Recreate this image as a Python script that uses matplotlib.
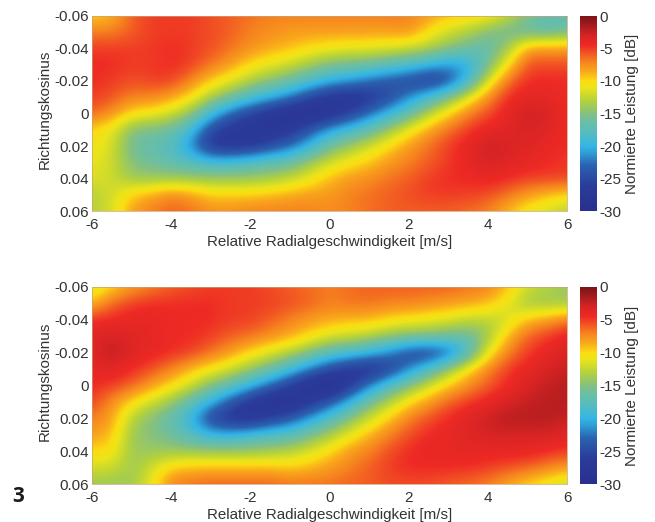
import numpy as np
import matplotlib
matplotlib.use('Agg')
import matplotlib.pyplot as plt
from matplotlib.colors import LinearSegmentedColormap

plt.rcParams['font.family'] = ['Liberation Sans', 'DejaVu Sans']
plt.rcParams['axes.unicode_minus'] = False

# axes values
speed = [-6, -5.5, -5, -4.5, -4, -3.5, -3, -2.5, -2, -1.5, -1, -0.5, 0, 0.5, 1, 1.5, 2, 2.5, 3, 3.5, 4, 4.5, 5, 5.5, 6]
cosine = [-0.06, -0.05, -0.04, -0.03, -0.02, -0.01, 0, 0.01, 0.02, 0.03, 0.04, 0.05, 0.06]
x_ticks = [-6, -4, -2, 0, 2, 4, 6]
y_ticks = [-0.06, -0.04, -0.02, 0, 0.02, 0.04, 0.06]
y_labels = ['-0.06', '-0.04', '-0.02', '0', '0.02', '0.04', '0.06']
cbar_ticks = [0, -5, -10, -15, -20, -25, -30]

# levels in dB (one row per cosine value)
power_top = [
    [-10, -9, -6, -5, -5, -5, -5.5, -6, -6.5, -7, -7, -7, -7, -7, -7, -7, -7, -8, -9, -9.5, -10, -12, -15, -17, -17.5],
    [-7, -7, -6, -5, -5, -5, -5.5, -6, -7, -7.5, -8, -8, -8, -8, -8, -8, -7.5, -10, -12, -13, -15, -16, -17, -17, -16],
    [-5, -5, -5, -5, -4.5, -5, -5.5, -6.5, -7.5, -8.5, -9, -10, -10.5, -11, -11, -11.5, -12, -13, -14.5, -16, -17, -14, -8, -8, -8],
    [-4.5, -4.5, -5, -5, -4.5, -5, -6.5, -8, -10, -11, -12, -13.5, -15, -15.5, -16, -17, -18, -19.5, -21, -20.5, -16, -10.5, -5.5, -5.5, -5.5],
    [-4.5, -5, -5.5, -5, -5, -7, -9.5, -11, -13, -14.5, -16, -18, -20, -21, -22.5, -24, -25, -26.5, -25, -19.5, -12, -6.5, -4.5, -4.5, -4.5],
    [-5, -5.5, -7, -7, -8, -10, -13, -15.5, -18, -20, -22, -25, -27, -28, -27, -25, -22, -19, -15.5, -11.5, -7.5, -4.5, -4, -4, -4.5],
    [-6, -7.5, -10, -10.5, -12, -14, -19, -23, -25.5, -27.5, -29, -29.5, -28.5, -26, -23, -20, -17, -13, -10, -7, -5.5, -4, -2.5, -3, -4.5],
    [-10, -11, -15, -15.5, -16, -19, -25, -27, -28, -28, -27, -24, -21, -19, -17, -14, -11, -8.5, -6.5, -5, -4, -3.5, -3, -3.5, -4.5],
    [-10.5, -11.5, -16, -17, -18, -21.5, -27, -27.5, -27, -25, -23, -20, -16, -14, -12, -10, -8, -6.5, -5, -4, -2.5, -3, -3.5, -4, -4.5],
    [-11, -12, -15, -16, -17, -18, -19, -19, -18, -17, -16.5, -14, -12, -10.5, -9.5, -8, -7, -6, -5, -4, -3, -3.5, -4, -4.5, -5],
    [-11.5, -12, -14, -14, -14, -14, -14, -14, -14, -13.5, -12.5, -11, -9, -8, -7.5, -6.5, -6, -5, -4.5, -4.5, -4, -4.5, -5, -5, -5],
    [-13, -12, -9.5, -8.5, -7, -8, -9.5, -9.5, -9.5, -9, -8.5, -8, -8, -7, -6.5, -6, -5.5, -5, -5, -5, -5.5, -6.5, -8, -9, -10],
    [-13, -12, -8, -7, -6, -6.5, -7.5, -7.5, -7, -7, -7, -7, -7.5, -7, -6.5, -6, -6, -6, -6, -6.5, -7, -9, -11, -12, -13],
]
power_bottom = [
    [-12, -10, -8, -7, -6, -5.5, -5, -5, -5, -5.5, -6, -6.5, -7, -6.5, -6, -6, -6, -6, -6, -6.5, -7, -9, -12, -13, -14],
    [-9, -6, -5, -4.5, -4.5, -4.5, -4.5, -5, -5, -5, -5.5, -6, -7, -6.5, -6.5, -7, -7, -7.5, -8, -8.5, -9, -11, -14, -14, -14],
    [-4.5, -4.5, -4, -4, -4.5, -4.5, -4.5, -5, -5, -6, -7, -8, -8.5, -9, -9, -10, -10.5, -11, -11.5, -12.5, -13, -12, -9, -8, -6.5],
    [-3.5, -3, -3.5, -4, -4.5, -4.5, -5, -6, -6.5, -7.5, -8.5, -10, -11.5, -12, -13, -14, -15, -15, -16, -16.5, -14, -9, -6, -5, -4],
    [-3.5, -2, -3.5, -4, -4.5, -5, -6.5, -8, -10, -11.5, -13, -15, -17.5, -18.5, -20, -22, -25, -26, -24, -18.5, -11, -7, -5, -4, -3],
    [-4, -3.5, -4.5, -5.5, -7, -9, -10.5, -12, -14, -16, -19, -22, -25, -27, -28, -26, -22, -18, -14, -10, -7, -5, -4, -3, -2.5],
    [-4.5, -5, -6, -8, -10, -12, -15, -17, -20, -23, -26, -29, -30, -27, -22, -18, -15, -12, -9.5, -7.5, -6, -4.5, -3, -2.5, -2],
    [-5, -7.5, -10, -12, -14, -17, -20, -24, -27, -29, -29, -27, -24, -20, -16, -13, -10, -8, -6, -5, -4, -3, -2.5, -2, -2],
    [-7, -8, -13, -15, -17, -20, -25.5, -27.5, -28, -26, -24, -21, -18, -15, -12, -9.5, -7, -5.5, -4.5, -3.5, -2.5, -2, -2, -2, -2.5],
    [-8, -9, -14, -15, -16, -18, -20, -20, -19, -18, -17.5, -15.5, -13.5, -11, -9, -7, -5.5, -4.5, -4, -3.5, -3, -3, -3, -3, -3.5],
    [-10, -10, -14, -14, -14, -14, -14, -14, -14, -13.5, -13, -11.5, -10, -8, -7, -5.5, -4.5, -4, -4, -4, -4, -4, -4, -4.5, -5],
    [-12, -12, -14, -12, -9.5, -9, -9, -9, -9, -9, -9.5, -9, -8, -7, -6, -5, -4.5, -4.5, -4.5, -4.5, -5, -5.5, -6, -7, -8],
    [-14, -14, -14, -11, -7, -6.5, -6, -6, -6, -6, -6.5, -6.5, -6.5, -6, -6, -5.5, -5.5, -5.5, -6, -6.5, -7, -8.5, -10, -11, -12.5],
]

# printed jet, a bit muted
jet_levels = [-30, -26, -23, -21, -20, -18, -16, -15, -13, -11, -10, -8.5, -7, -5.5, -4.5, -3, -1.5, 0]
jet_colors = ['#2a2f8c', '#2a3d9c', '#2a62b0', '#2f9fd8', '#35b5e5', '#55bcc0', '#6fbf9f', '#85c080', '#b4d23c',
              '#ecE41a', '#fbdc12', '#f9a81c', '#f6821f', '#f14e24', '#ee2a24', '#d82424', '#a81c1e', '#7c1416']
nodes = [(v + 30) / 30 for v in jet_levels]
cmap = LinearSegmentedColormap.from_list('print_jet', list(zip(nodes, jet_colors)), N=512)

W, H = 655, 522
fig = plt.figure(figsize=(W / 100, H / 100), dpi=100)
TXT = '#333333'


def box(left, top, right, bottom):
    return [left / W, 1 - bottom / H, (right - left) / W, (bottom - top) / H]


def panel(values, top, bottom):
    ax = fig.add_axes(box(92, top, 567, bottom))
    # half a cell past the outer samples so that they sit on the frame
    dx = (speed[1] - speed[0]) / 2
    dy = (cosine[1] - cosine[0]) / 2
    im = ax.imshow(np.array(values), cmap=cmap, vmin=-30, vmax=0, aspect='auto', interpolation='bicubic',
                   interpolation_stage='data',
                   extent=(speed[0] - dx, speed[-1] + dx, cosine[-1] + dy, cosine[0] - dy))
    ax.set_xlim(-6, 6)
    ax.set_ylim(0.06, -0.06)
    ax.set_xticks(x_ticks)
    ax.set_yticks(y_ticks)
    ax.set_yticklabels(y_labels)
    ax.tick_params(length=0, labelsize=11, labelcolor=TXT)
    ax.tick_params(axis='x', pad=5)
    ax.tick_params(axis='y', pad=2)
    for s in ax.spines.values():
        s.set_color('#c9a07a')
        s.set_linewidth(0.5)
    ax.set_xlabel('Relative Radialgeschwindigkeit [m/s]', fontsize=10.9, color=TXT, labelpad=2.5)
    ax.set_ylabel('Richtungskosinus', fontsize=11, color=TXT, labelpad=2)
    ax.yaxis.label.set_y(0.52)

    cax = fig.add_axes(box(580, top, 597, bottom))
    cb = fig.colorbar(im, cax=cax)
    cb.set_ticks(cbar_ticks)
    cb.ax.tick_params(length=0, labelsize=11, labelcolor=TXT, pad=2)
    cb.outline.set_visible(False)
    cb.set_label('Normierte Leistung [dB]', fontsize=11, color=TXT, labelpad=2)


panel(power_top, 16, 211)
panel(power_bottom, 287, 484)

fig.text(18 / W, 1 - 497 / H, '3', fontsize=15, fontweight='bold', family='Open Sans', color='#1a1a1a',
         ha='center', va='center')

fig.savefig('out.png', dpi=100)
